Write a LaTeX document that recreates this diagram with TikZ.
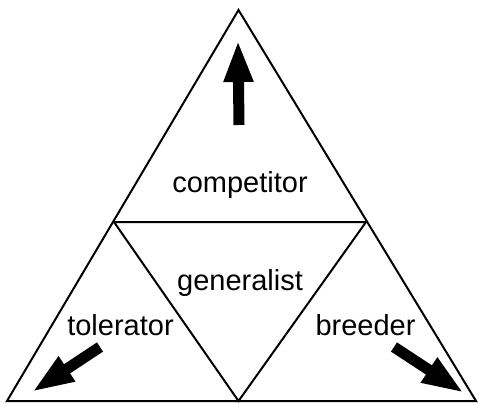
\documentclass[tikz,border=0pt]{standalone}
\usepackage{fontspec}
\setmainfont{Liberation Sans}
\usepackage{tikz}
\usetikzlibrary{arrows.meta,positioning}

\begin{document}
\begin{tikzpicture}[x=1pt, y=-1pt,
    edge/.style={draw=black, line width=2pt, line join=miter},
    role/.style={font=\fontsize{29}{34}\selectfont, inner sep=0pt, anchor=base},
    push/.style={-{Triangle[length=42pt, width=27pt]}, line width=11pt}
]
    \useasboundingbox (0,0) rectangle (479,404);
    % corners of the outer triangle
    \coordinate (top) at (238.5,10);
    \coordinate (bl) at (7,401);
    \coordinate (br) at (476,401);
    % corners of the inner triangle
    \coordinate (ml) at (114,222);
    \coordinate (mr) at (366,222);
    \coordinate (mb) at (238.5,401);
    \draw[edge] (top) -- (br) -- (bl) -- cycle;
    \draw[edge] (ml) -- (mr) -- (mb) -- cycle;

    % strategy labels
    \node[role] (comp) at (240,192) {competitor};
    \node[role] (gen) at (240,290) {generalist};
    \node[role] (tol) at (120.5,335) {tolerator};
    \node[role] (bre) at (365.5,335) {breeder};

    % arrows towards the corners
    \coordinate (compfrom) at (239,125);
    \coordinate (compto) at (238,40);
    \coordinate (tolfrom) at (100,347);
    \coordinate (tolto) at (32,392);
    \coordinate (brefrom) at (394,347);
    \coordinate (breto) at (464,393);
    \draw[push] (compfrom) -- (compto);
    \draw[push] (tolfrom) -- (tolto);
    \draw[push] (brefrom) -- (breto);
\end{tikzpicture}
\end{document}
